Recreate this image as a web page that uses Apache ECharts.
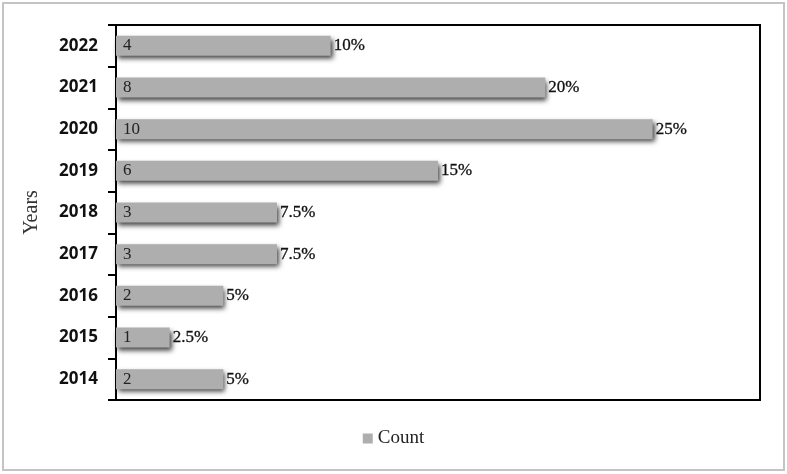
<!DOCTYPE html>
<html>
<head>
<meta charset="utf-8">
<script src="https://cdn.jsdelivr.net/npm/echarts@6/dist/echarts.min.js"></script>
<style>html,body{margin:0;padding:0;background:#fff}#c{width:787px;height:474px}</style>
</head>
<body>
<div id="c"></div>
<script>
var years = ['2014','2015','2016','2017','2018','2019','2020','2021','2022'];
var counts = [2, 1, 2, 3, 3, 6, 10, 8, 4];
var percents = ['5%', '2.5%', '5%', '7.5%', '7.5%', '15%', '25%', '20%', '10%'];

var chart = echarts.init(document.getElementById('c'));
chart.setOption({
  animation: false,
  backgroundColor: '#fff',
  graphic: [{
    type: 'rect', shape: {x: 3, y: 3, width: 781, height: 467},
    style: {fill: 'none', stroke: '#c4c4c4', lineWidth: 2}, silent: true
  }],
  grid: {left: 116, top: 25, right: 27, bottom: 74, show: true, borderColor: '#000', borderWidth: 2, backgroundColor: '#fff'},
  legend: {
    bottom: 21, left: 'center', itemWidth: 10, itemHeight: 10, itemGap: 4,
    icon: 'rect',
    data: ['Count'],
    textStyle: {fontFamily: 'Liberation Serif', fontSize: 19, color: '#222'}
  },
  xAxis: {
    type: 'value', min: 0, max: 12, interval: 1,
    axisLine: {show: false}, axisTick: {show: false}, axisLabel: {show: false}, splitLine: {show: false}
  },
  yAxis: {
    type: 'category', data: years,
    name: 'Years', nameLocation: 'middle', nameGap: 74, nameRotate: 90,
    nameTextStyle: {fontFamily: 'Liberation Serif', fontSize: 20, color: '#333'},
    axisLine: {show: true, lineStyle: {color: '#000', width: 2}},
    axisTick: {show: true, length: 8, lineStyle: {color: '#000', width: 2}},
    axisLabel: {fontFamily: 'Open Sans', fontWeight: 'bold', fontSize: 17, color: '#111', margin: 18}
  },
  series: [{
    name: 'Count', type: 'bar', data: counts, barWidth: 20,
    itemStyle: {color: '#aeaeae', shadowColor: 'rgba(0,0,0,0.75)', shadowBlur: 5, shadowOffsetX: 2, shadowOffsetY: 3},
    label: {show: true, position: 'insideLeft', distance: 7, fontFamily: 'Liberation Serif', fontSize: 17, color: '#222',
      formatter: function (p) { return p.value; }}
  }, {
    name: 'pct', type: 'bar', data: counts, barWidth: 20, barGap: '-100%',
    itemStyle: {color: 'rgba(0,0,0,0)'},
    label: {show: true, position: 'right', distance: 3, fontFamily: 'Liberation Serif', fontSize: 17, color: '#111',
      textBorderColor: '#111', textBorderWidth: 0.3,
      formatter: function (p) { return percents[p.dataIndex]; }},
    silent: true
  }]
});
</script>
</body>
</html>
